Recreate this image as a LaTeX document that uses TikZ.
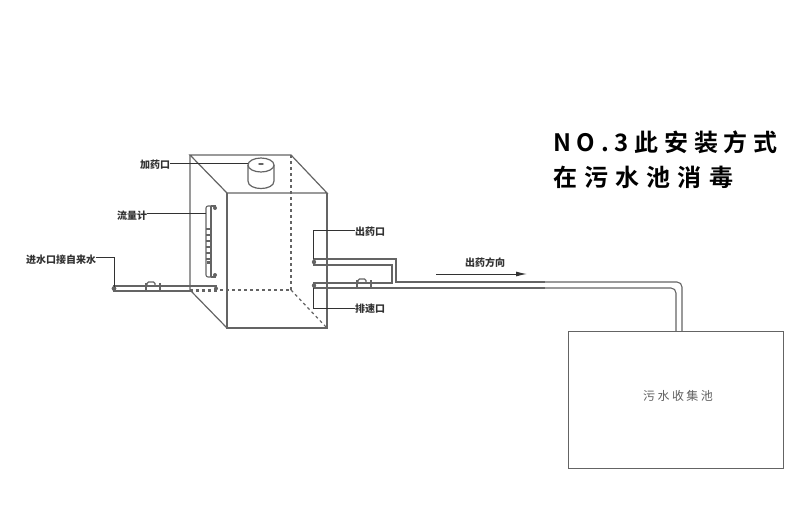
\documentclass[tikz,border=0pt]{standalone}
\usepackage{fontspec}
\setmainfont{Noto Sans CJK SC}
\newfontfamily\titlefont[LetterSpace=24,BoldFont={Noto Sans CJK SC Bold}]{Noto Sans CJK SC}
\newfontfamily\titlewidefont[LetterSpace=30,BoldFont={Noto Sans CJK SC Bold}]{Noto Sans CJK SC}
\newfontfamily\tankfont[LetterSpace=20]{Noto Sans CJK SC}
\definecolor{pipeline}{RGB}{100, 100, 100}
\definecolor{labeltext}{RGB}{50, 50, 50}
\definecolor{tanktext}{RGB}{95, 95, 95}
\usetikzlibrary{arrows.meta}

\begin{document}
\begin{tikzpicture}[
    x=1pt, y=-1pt,
    wall/.style={draw=pipeline, line width=1.2pt},
    hidden/.style={draw=pipeline, line width=1.2pt, dash pattern=on 3pt off 3pt},
    pipe/.style={draw=pipeline, line width=1.1pt},
    lead/.style={draw=labeltext, line width=1pt},
    partlabel/.style={text=labeltext, font=\fontsize{10}{10}\selectfont\bfseries, inner sep=0pt},
    title/.style={text=black, font=\fontsize{24}{24}\selectfont#1\bfseries, inner sep=0pt, anchor=west}
]
    \useasboundingbox (0,0) rectangle (800,530);

    \coordinate (backtl) at (190,155);
    \coordinate (backtr) at (291,155);
    \coordinate (backbl) at (190,290);
    \coordinate (backbr) at (291,290);
    \coordinate (fronttl) at (227,193);
    \coordinate (fronttr) at (327,193);
    \coordinate (frontbl) at (227,328);
    \coordinate (frontbr) at (327,328);

    \draw[hidden] (backtr) -- (backbr);
    \draw[hidden] (backbl) -- (backbr);
    \draw[hidden] (backbr) -- (frontbr);
    \draw[wall] (backtl) -- (backtr) -- (fronttr) -- (fronttl) -- cycle;
    \draw[wall] (fronttl) -- (frontbl) -- (frontbr) -- (fronttr);
    \draw[wall] (backtl) -- (backbl) -- (frontbl);

    \draw[wall, fill=white] (248,165) -- (248,181) .. controls (248,191) and (274,191) .. (274,181) -- (274,165);
    \draw[wall, fill=white] (261,165) ellipse[x radius=13, y radius=7];
    \fill[pipeline] (261,164) ellipse[x radius=3, y radius=1];

    \draw[pipe, rounded corners=2pt] (211,206) -- (206,206) -- (206,277) -- (211,277);
    \draw[pipe] (211,206) -- (211,277);
    \draw[pipe] (211,206) -- (216,206);
    \draw[pipe] (211,277) -- (216,277);
    \fill[pipeline] (215,208) circle (2pt);
    \fill[pipeline] (215,275) circle (2pt);
    \foreach \y in {229,235,241,247,253,259} {
        \draw[pipe] (206,\y) -- (211,\y);
    }
    \fill[pipeline] (206.5,261) rectangle (210.5,264);

    \draw[pipe] (113,286) -- (217,286);
    \draw[pipe] (113,291) -- (190,291);
    \draw[hidden] (190,291) -- (217,291);
    \fill[pipeline] (114,288.5) circle (2.4pt);
    \fill[pipeline] (216,288.5) circle (2pt);
    \draw[pipe, line width=1.8pt] (146,283) -- (146,292);
    \draw[pipe, line width=1.8pt] (160,283) -- (160,292);
    \draw[pipe, rounded corners=1.5pt] (147,286) -- (147,282) -- (155,282) -- (155,286);

    \draw[pipe] (313,259) -- (396,259) -- (396,282) -- (545,282);
    \draw[pipe] (313,265) -- (392,265) -- (392,283) -- (313,283);
    \draw[pipe] (313,288) -- (545,288);
    \draw[pipe, rounded corners=5pt] (545,282) -- (682,282) -- (682,331);
    \draw[pipe, rounded corners=5pt] (545,288) -- (676,288) -- (676,331);
    \fill[pipeline] (314,262) circle (2.2pt);
    \fill[pipeline] (314,285.5) circle (2.2pt);
    \draw[pipe, line width=1.8pt] (357,280) -- (357,289);
    \draw[pipe, line width=1.8pt] (371,280) -- (371,289);
    \draw[pipe, rounded corners=1.5pt] (358,283) -- (358,279) -- (366,279) -- (366,283);

    \node[draw=pipeline, line width=1pt, minimum width=215pt, minimum height=137pt, inner sep=0pt] (tank) at (675.5,399.5) {};
    \node[text=tanktext, font=\fontsize{12}{12}\selectfont\tankfont, inner sep=0pt] (tanklabel) at (678,396) {污水收集池};

    \node[partlabel] (dosing) at (155,165) {加药口};
    \node[partlabel] (meter) at (132,216) {流量计};
    \node[partlabel] (inlet) at (61,260) {进水口接自来水};
    \node[partlabel] (outlet) at (370,232) {出药口};
    \node[partlabel] (drain) at (370,309) {排速口};
    \node[partlabel] (flow) at (485,263) {出药方向};

    \node[title=\titlefont] (titleone) at (553,142) {NO.3此安装方式};
    \node[title=\titlewidefont] (titletwo) at (553,177) {在污水池消毒};

    \coordinate (flowstart) at (436,274);
    \coordinate (flowend) at (527,274);
    \draw[-{Latex[length=11pt, width=5pt]}, lead] (flowstart) -- (flowend);

    \draw[lead] ([yshift=2pt]dosing.east) -- (248,163);
    \draw[lead] ([yshift=3pt]meter.east) -- (206,213);
    \draw[lead] ([yshift=3pt]inlet.east) -- (114,257) -- (114,287);
    \draw[lead] ([yshift=2pt]outlet.west) -- (313,230) -- (313,259);
    \draw[lead] ([yshift=1pt]drain.west) -- (313,308) -- (313,288);
\end{tikzpicture}
\end{document}
